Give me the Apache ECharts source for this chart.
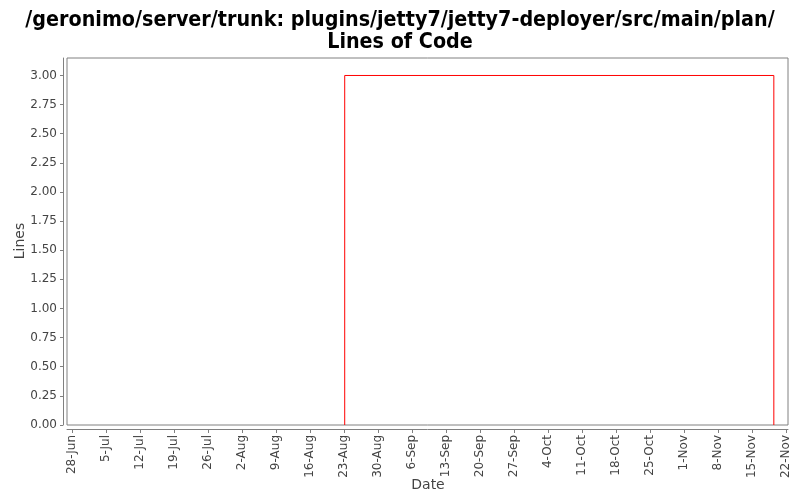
<!DOCTYPE html>
<html>
<head>
<meta charset="utf-8">
<script src="https://cdn.jsdelivr.net/npm/echarts@6/dist/echarts.min.js"></script>
<style>html,body{margin:0;padding:0;background:#fff}#c{width:800px;height:500px}</style>
</head>
<body>
<div id="c"></div>
<script>
var titleLines = ['/geronimo/server/trunk: plugins/jetty7/jetty7-deployer/src/main/plan/', 'Lines of Code'];
var xAxisName = 'Date';
var yAxisName = 'Lines';
var stepDates = ['2009-08-23T04:00:00', '2009-08-23T04:00:00', '2009-11-19T12:00:00', '2009-11-19T12:00:00'];
var stepValues = [0, 3, 3, 0];
var xTickDates = ['2009-06-28','2009-07-05','2009-07-12','2009-07-19','2009-07-26','2009-08-02','2009-08-09','2009-08-16','2009-08-23','2009-08-30','2009-09-06','2009-09-13','2009-09-20','2009-09-27','2009-10-04','2009-10-11','2009-10-18','2009-10-25','2009-11-01','2009-11-08','2009-11-15','2009-11-22'];
var yTicks = [0, 0.25, 0.5, 0.75, 1, 1.25, 1.5, 1.75, 2, 2.25, 2.5, 2.75, 3];
var months = ['Jan','Feb','Mar','Apr','May','Jun','Jul','Aug','Sep','Oct','Nov','Dec'];

function ts(s) { var p = s.split('T'); var d = p[0].split('-'); var h = p[1] ? p[1].split(':') : [0,0,0];
  return Date.UTC(+d[0], +d[1]-1, +d[2], +h[0], +h[1]); }

var chart = echarts.init(document.getElementById('c'), null, {renderer: 'canvas'});
var data = stepDates.map(function (d, i) { return [ts(d), stepValues[i]]; });
var xTicks = xTickDates.map(ts);
var grey = '#808080';
var nameStyle = { fontFamily: '"DejaVu Sans", sans-serif', fontSize: 14, fill: '#444', align: 'center', verticalAlign: 'middle' };
chart.setOption({
  backgroundColor: '#ffffff',
  animation: false,
  title: {
    text: titleLines.join('\n'),
    left: 'center', top: 4,
    textStyle: { fontFamily: '"Liberation Sans Narrow", "DejaVu Sans Condensed", sans-serif', fontWeight: 'bold', fontSize: 21.3, color: '#000', lineHeight: 22 }
  },
  graphic: [
    { type: 'text', x: 428, y: 485, style: Object.assign({ text: xAxisName }, nameStyle) },
    { type: 'text', x: 20, y: 241, rotation: Math.PI / 2, style: Object.assign({ text: yAxisName }, nameStyle) }
  ],
  grid: { left: 67, right: 12, top: 58, bottom: 75, show: true, borderColor: grey, borderWidth: 1, backgroundColor: '#fff', containLabel: false, outerBoundsMode: 'none' },
  xAxis: {
    type: 'value',
    min: ts('2009-06-27T00:00:00'),
    max: ts('2009-11-22T10:00:00'),
    offset: 4,
    axisLine: { show: true, onZero: false, lineStyle: { color: grey } },
    axisTick: { show: true, length: 4, lineStyle: { color: grey }, customValues: xTicks },
    splitLine: { show: false },
    axisLabel: {
      customValues: xTicks, rotate: 90, margin: 6, fontSize: 12, color: '#444',
      fontFamily: '"DejaVu Sans", sans-serif',
      formatter: function (v) { var d = new Date(v); return d.getUTCDate() + '-' + months[d.getUTCMonth()]; }
    }
  },
  yAxis: {
    type: 'value',
    min: 0, max: 3.15,
    offset: 4,
    axisLine: { show: true, onZero: false, lineStyle: { color: grey } },
    axisTick: { show: true, length: 3, lineStyle: { color: grey }, customValues: yTicks },
    splitLine: { show: false },
    axisLabel: {
      customValues: yTicks, margin: 6, fontSize: 12, color: '#444',
      fontFamily: '"DejaVu Sans", sans-serif',
      formatter: function (v) { return v.toFixed(2); }
    }
  },
  series: [{
    type: 'line', data: data, showSymbol: false, symbol: 'none',
    lineStyle: { color: '#ff0000', width: 1 }, itemStyle: { color: '#ff0000' }
  }]
});
</script>
</body>
</html>
